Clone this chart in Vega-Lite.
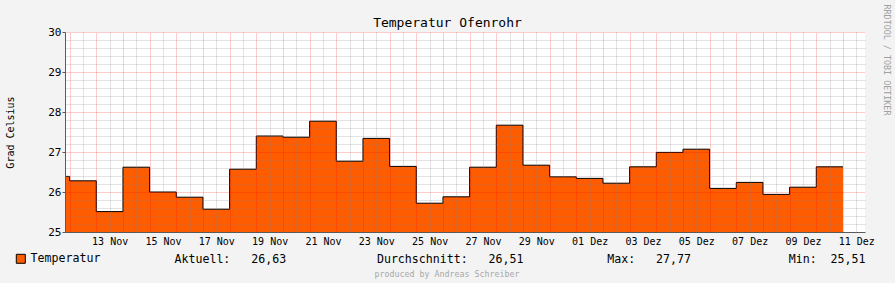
{
  "$schema": "https://vega.github.io/schema/vega-lite/v6.json",
  "width": 800,
  "height": 200,
  "autosize": {"type": "none"},
  "padding": {"left": 65, "top": 32, "right": 30, "bottom": 51},
  "background": "#f3f3f3",
  "title": {
    "text": "produced by Andreas Schreiber",
    "orient": "bottom",
    "anchor": "middle",
    "frame": "group",
    "font": "DejaVu Sans Mono",
    "fontSize": 8.3,
    "fontWeight": "normal",
    "color": "#a8a8a8",
    "offset": 4,
    "dx": -18
  },
  "data": {
    "values": [
      {"t": "2012-11-11T00:00:00", "v": 26.39},
      {"t": "2012-11-12T00:00:00", "v": 26.28},
      {"t": "2012-11-13T00:00:00", "v": 25.51},
      {"t": "2012-11-14T00:00:00", "v": 26.62},
      {"t": "2012-11-15T00:00:00", "v": 26.00},
      {"t": "2012-11-16T00:00:00", "v": 25.87},
      {"t": "2012-11-17T00:00:00", "v": 25.57},
      {"t": "2012-11-18T00:00:00", "v": 26.57},
      {"t": "2012-11-19T00:00:00", "v": 27.40},
      {"t": "2012-11-20T00:00:00", "v": 27.37},
      {"t": "2012-11-21T00:00:00", "v": 27.77},
      {"t": "2012-11-22T00:00:00", "v": 26.77},
      {"t": "2012-11-23T00:00:00", "v": 27.34},
      {"t": "2012-11-24T00:00:00", "v": 26.64},
      {"t": "2012-11-25T00:00:00", "v": 25.72},
      {"t": "2012-11-26T00:00:00", "v": 25.88},
      {"t": "2012-11-27T00:00:00", "v": 26.62},
      {"t": "2012-11-28T00:00:00", "v": 27.67},
      {"t": "2012-11-29T00:00:00", "v": 26.67},
      {"t": "2012-11-30T00:00:00", "v": 26.38},
      {"t": "2012-12-01T00:00:00", "v": 26.34},
      {"t": "2012-12-02T00:00:00", "v": 26.22},
      {"t": "2012-12-03T00:00:00", "v": 26.63},
      {"t": "2012-12-04T00:00:00", "v": 26.99},
      {"t": "2012-12-05T00:00:00", "v": 27.07},
      {"t": "2012-12-06T00:00:00", "v": 26.09},
      {"t": "2012-12-07T00:00:00", "v": 26.24},
      {"t": "2012-12-08T00:00:00", "v": 25.94},
      {"t": "2012-12-09T00:00:00", "v": 26.12},
      {"t": "2012-12-10T00:00:00", "v": 26.63},
      {"t": "2012-12-11T00:00:00", "v": 26.63}
    ]
  },
  "layer": [
    {
      "encoding": {
        "x": {
          "field": "t",
          "type": "temporal",
          "scale": {
            "domain": [
              {"year": 2012, "month": 11, "date": 11, "hours": 19, "minutes": 50},
              {"year": 2012, "month": 12, "date": 11, "hours": 19, "minutes": 50}
            ],
            "nice": false
          },
          "axis": {
            "zindex": 1,
            "values": [
              {"year": 2012, "month": 11, "date": 12, "hours": 12},
              {"year": 2012, "month": 11, "date": 13, "hours": 12},
              {"year": 2012, "month": 11, "date": 14, "hours": 12},
              {"year": 2012, "month": 11, "date": 15, "hours": 12},
              {"year": 2012, "month": 11, "date": 16, "hours": 12},
              {"year": 2012, "month": 11, "date": 17, "hours": 12},
              {"year": 2012, "month": 11, "date": 18, "hours": 12},
              {"year": 2012, "month": 11, "date": 19, "hours": 12},
              {"year": 2012, "month": 11, "date": 20, "hours": 12},
              {"year": 2012, "month": 11, "date": 21, "hours": 12},
              {"year": 2012, "month": 11, "date": 22, "hours": 12},
              {"year": 2012, "month": 11, "date": 23, "hours": 12},
              {"year": 2012, "month": 11, "date": 24, "hours": 12},
              {"year": 2012, "month": 11, "date": 25, "hours": 12},
              {"year": 2012, "month": 11, "date": 26, "hours": 12},
              {"year": 2012, "month": 11, "date": 27, "hours": 12},
              {"year": 2012, "month": 11, "date": 28, "hours": 12},
              {"year": 2012, "month": 11, "date": 29, "hours": 12},
              {"year": 2012, "month": 11, "date": 30, "hours": 12},
              {"year": 2012, "month": 12, "date": 1, "hours": 12},
              {"year": 2012, "month": 12, "date": 2, "hours": 12},
              {"year": 2012, "month": 12, "date": 3, "hours": 12},
              {"year": 2012, "month": 12, "date": 4, "hours": 12},
              {"year": 2012, "month": 12, "date": 5, "hours": 12},
              {"year": 2012, "month": 12, "date": 6, "hours": 12},
              {"year": 2012, "month": 12, "date": 7, "hours": 12},
              {"year": 2012, "month": 12, "date": 8, "hours": 12},
              {"year": 2012, "month": 12, "date": 9, "hours": 12},
              {"year": 2012, "month": 12, "date": 10, "hours": 12},
              {"year": 2012, "month": 12, "date": 11, "hours": 12}
            ],
            "format": "%d %b",
            "labelExpr": "date(datum.value) % 2 == 1 ? replace(datum.label, 'Dec', 'Dez') : ''",
            "labelOverlap": false,
            "labelFlush": false,
            "labelFont": "DejaVu Sans Mono",
            "labelFontSize": 10,
            "labelColor": "#000000",
            "labelBaseline": "alphabetic",
            "labelPadding": 9.5,
            "labelAngle": 0,
            "tickSize": 3,
            "tickColor": "rgba(0,0,0,0)",
            "grid": true,
            "gridColor": "rgba(128,128,128,0.45)",
            "gridDash": [1, 1],
            "gridWidth": 1,
            "domainColor": "#5a5a5a",
            "domainWidth": 1,
            "title": "Aktuell:\u00a0\u00a0\u00a026,63\u00a0\u00a0\u00a0\u00a0\u00a0\u00a0\u00a0\u00a0\u00a0\u00a0\u00a0\u00a0\u00a0Durchschnitt:\u00a0\u00a0\u00a026,51\u00a0\u00a0\u00a0\u00a0\u00a0\u00a0\u00a0\u00a0\u00a0\u00a0\u00a0\u00a0Max:\u00a0\u00a0\u00a027,77\u00a0\u00a0\u00a0\u00a0\u00a0\u00a0\u00a0\u00a0\u00a0\u00a0\u00a0\u00a0\u00a0\u00a0Min:\u00a0\u00a025,51",
            "titleFont": "DejaVu Sans Mono",
            "titleFontSize": 11.6,
            "titleFontWeight": "normal",
            "titleColor": "#000000",
            "titleAlign": "left",
            "titleBaseline": "alphabetic",
            "titleX": 109,
            "titleY": 30.3
          }
        },
        "y": {
          "field": "v",
          "type": "quantitative",
          "scale": {"domain": [25, 30], "nice": false, "zero": false},
          "axis": {
            "zindex": 1,
            "values": [25, 26, 27, 28, 29, 30],
            "labelOverlap": false,
            "labelFlush": false,
            "labelFont": "DejaVu Sans Mono",
            "labelFontSize": 11,
            "labelColor": "#000000",
            "labelPadding": 1,
            "tickSize": 3,
            "tickColor": "#5a5a5a",
            "grid": true,
            "gridColor": "rgba(255,0,0,0.4)",
            "gridDash": [1, 1],
            "gridWidth": 1,
            "domainColor": "#5a5a5a",
            "domainWidth": 1,
            "title": "Grad Celsius",
            "titleFont": "DejaVu Sans Mono",
            "titleFontSize": 10,
            "titleFontWeight": "normal",
            "titleColor": "#000000",
            "titleAlign": "center",
            "titleBaseline": "middle",
            "titleX": -55,
            "titleY": 100
          }
        }
      },
      "layer": [
        {
          "mark": {"type": "area", "interpolate": "step-after", "clip": true},
          "encoding": {
            "fill": {
              "datum": "Temperatur",
              "type": "nominal",
              "scale": {"range": ["#ff5c00"]},
              "legend": {
                "orient": "none",
                "legendX": -50,
                "legendY": 221,
                "title": null,
                "padding": 0,
                "symbolType": "square",
                "symbolSize": 81,
                "symbolStrokeColor": "#000000",
                "symbolStrokeWidth": 1,
                "symbolOpacity": 1,
                "labelFont": "DejaVu Sans Mono",
                "labelFontSize": 11.6,
                "labelColor": "#000000",
                "labelOffset": 4
              }
            }
          }
        },
        {
          "mark": {"type": "line", "interpolate": "step-after", "color": "#000000", "strokeWidth": 1, "clip": true},
          "encoding": {}
        }
      ]
    },
    {
      "mark": {"type": "line", "opacity": 0},
      "encoding": {
        "x": {
          "field": "t",
          "type": "temporal",
          "scale": {
            "domain": [
              {"year": 2012, "month": 11, "date": 11, "hours": 19, "minutes": 50},
              {"year": 2012, "month": 12, "date": 11, "hours": 19, "minutes": 50}
            ],
            "nice": false
          },
          "axis": {
            "orient": "top",
            "zindex": 1,
            "values": [
              {"year": 2012, "month": 11, "date": 12},
              {"year": 2012, "month": 11, "date": 13},
              {"year": 2012, "month": 11, "date": 14},
              {"year": 2012, "month": 11, "date": 15},
              {"year": 2012, "month": 11, "date": 16},
              {"year": 2012, "month": 11, "date": 17},
              {"year": 2012, "month": 11, "date": 18},
              {"year": 2012, "month": 11, "date": 19},
              {"year": 2012, "month": 11, "date": 20},
              {"year": 2012, "month": 11, "date": 21},
              {"year": 2012, "month": 11, "date": 22},
              {"year": 2012, "month": 11, "date": 23},
              {"year": 2012, "month": 11, "date": 24},
              {"year": 2012, "month": 11, "date": 25},
              {"year": 2012, "month": 11, "date": 26},
              {"year": 2012, "month": 11, "date": 27},
              {"year": 2012, "month": 11, "date": 28},
              {"year": 2012, "month": 11, "date": 29},
              {"year": 2012, "month": 11, "date": 30},
              {"year": 2012, "month": 12, "date": 1},
              {"year": 2012, "month": 12, "date": 2},
              {"year": 2012, "month": 12, "date": 3},
              {"year": 2012, "month": 12, "date": 4},
              {"year": 2012, "month": 12, "date": 5},
              {"year": 2012, "month": 12, "date": 6},
              {"year": 2012, "month": 12, "date": 7},
              {"year": 2012, "month": 12, "date": 8},
              {"year": 2012, "month": 12, "date": 9},
              {"year": 2012, "month": 12, "date": 10},
              {"year": 2012, "month": 12, "date": 11}
            ],
            "labels": false,
            "ticks": false,
            "domain": false,
            "grid": true,
            "gridColor": "rgba(255,0,0,0.4)",
            "gridDash": [1, 1],
            "gridWidth": 1,
            "title": "Temperatur Ofenrohr",
            "titleFont": "DejaVu Sans Mono",
            "titleFontSize": 13,
            "titleFontWeight": "normal",
            "titleColor": "#000000",
            "titleAlign": "center",
            "titleBaseline": "alphabetic",
            "titleX": 382,
            "titleY": -6
          }
        },
        "y": {
          "field": "v",
          "type": "quantitative",
          "scale": {"domain": [25, 30], "nice": false, "zero": false},
          "axis": {
            "orient": "right",
            "zindex": 1,
            "values": [25.2, 25.4, 25.6, 25.8, 26.2, 26.4, 26.6, 26.8, 27.2, 27.4, 27.6, 27.8, 28.2, 28.4, 28.6, 28.8, 29.2, 29.4, 29.6, 29.8],
            "labels": false,
            "ticks": false,
            "domain": false,
            "grid": true,
            "gridColor": "rgba(128,128,128,0.45)",
            "gridDash": [1, 1],
            "gridWidth": 1,
            "title": "RRDTOOL / TOBI OETIKER",
            "titleFont": "DejaVu Sans Mono",
            "titleFontSize": 8.4,
            "titleFontWeight": "normal",
            "titleColor": "#a0a0a0",
            "titleAngle": 90,
            "titleAlign": "center",
            "titleBaseline": "middle",
            "titleX": 21.3,
            "titleY": 27.5
          }
        }
      }
    }
  ],
  "resolve": {"scale": {"x": "independent", "y": "independent"}},
  "config": {
    "view": {"fill": "#ffffff", "stroke": null},
    "font": "DejaVu Sans Mono"
  }
}
